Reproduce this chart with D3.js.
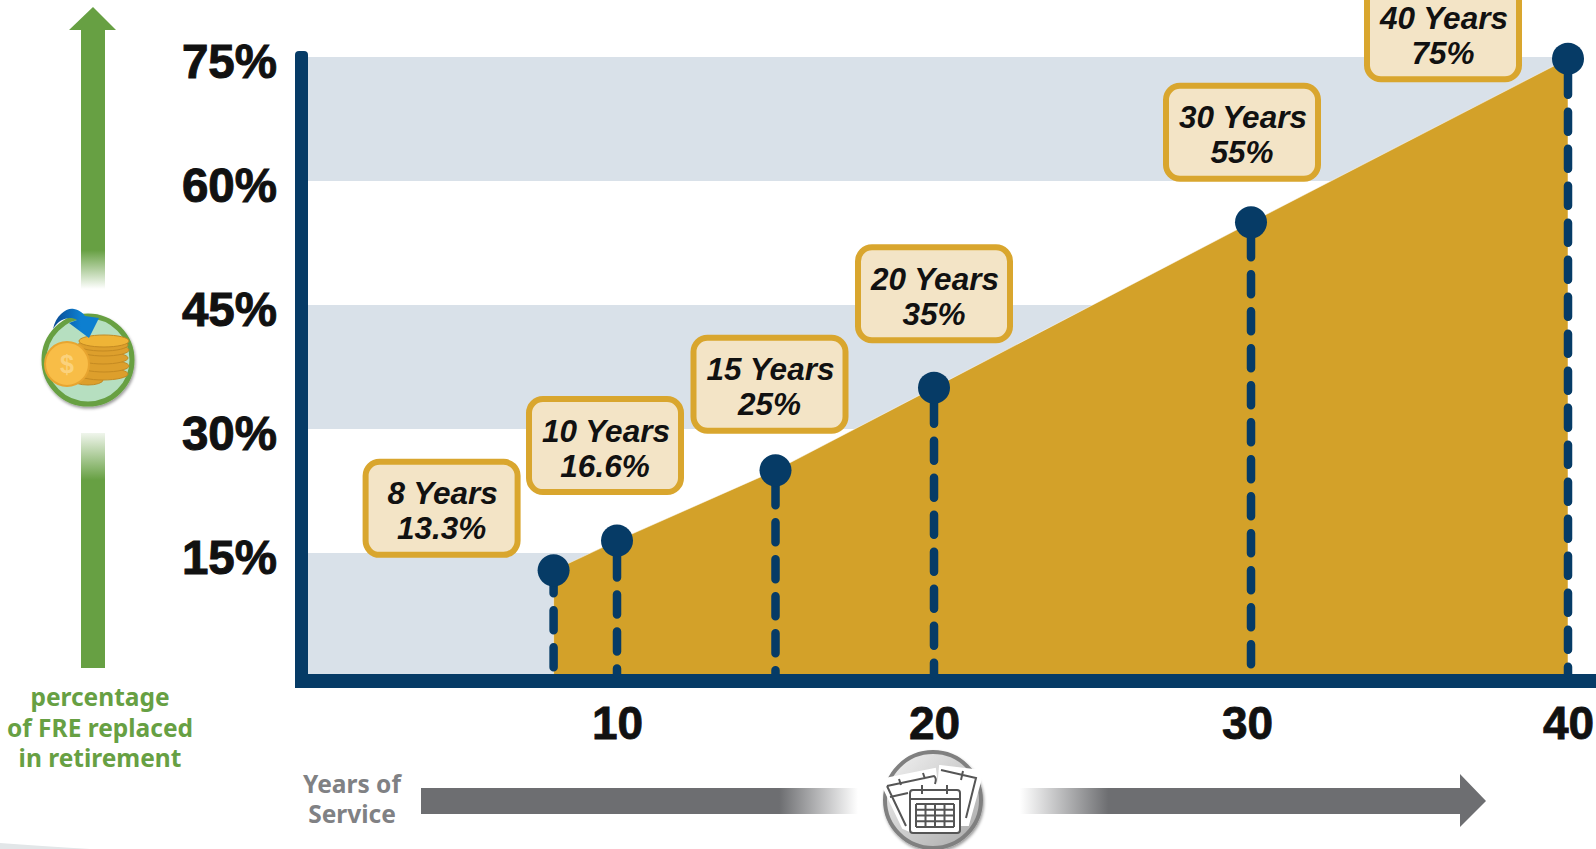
<!DOCTYPE html>
<html>
<head>
<meta charset="utf-8">
<title>Percentage of FRE replaced in retirement</title>
<script src="https://cdn.jsdelivr.net/npm/d3@7"></script>
<style>
    html, body { margin: 0; padding: 0; background: #fff; overflow: hidden; }
    svg { display: block; }
</style>
</head>
<body>
<div id="chart"></div>
<script>
// values (dot heights, the printed labels are kept apart)
const years = [8, 10, 15, 20, 30, 40];
const percents = [12.9, 16.5, 25, 35, 55, 74.8];
const pointLabels = ["13.3%", "16.6%", "25%", "35%", "55%", "75%"];
const xTicks = [10, 20, 30, 40];
const yTicks = [15, 30, 45, 60, 75];
const bands = [[0, 15], [30, 45], [60, 75]];
const yAxisTitle = ["percentage", "of FRE replaced", "in retirement"];
const xAxisTitle = ["Years of", "Service"];

// where each callout box sits relative to its point
const boxDx = [-112, -12, -6, 0, -9, -125];
const boxDy = [-62, -95, -86, -94, -90, -26];
// length of the first dash below each dot
const firstDash = [25, 39, 37, 38, 37, 38];

const width = 1596, height = 849;
const navy = "#063b66", gold = "#d3a129", green = "#67a043", gray = "#6d6e71";
const sans = "'Liberation Sans', Arial, sans-serif";

const x = d3.scaleLinear().domain([0, 40]).range([300, 1568]);
const y = d3.scaleLinear().domain([0, 75]).range([677, 57]);

const svg = d3.select("#chart")
    .append("svg")
    .attr("width", width)
    .attr("height", height)
    .attr("viewBox", [0, 0, width, height]);

const defs = svg.append("defs");

function fade(id, x1, x2, color, stops) {
    let g = defs.append("linearGradient")
        .attr("id", id)
        .attr("gradientUnits", "userSpaceOnUse")
        .attr("x1", x1[0]).attr("y1", x1[1])
        .attr("x2", x2[0]).attr("y2", x2[1]);
    stops.forEach(s => g.append("stop")
        .attr("offset", s[0])
        .attr("stop-color", color)
        .attr("stop-opacity", s[1]));
}

fade("greenTop", [0, 30], [0, 289], green, [[0, 1], [0.85, 1], [1, 0]]);
fade("greenBottom", [0, 433], [0, 668], green, [[0, 0.1], [0.2, 1], [1, 1]]);
fade("grayLeft", [421, 0], [858, 0], gray, [[0, 1], [0.82, 1], [1, 0]]);
fade("grayRight", [1020, 0], [1462, 0], gray, [[0, 0], [0.2, 1], [1, 1]]);

let ring = defs.append("linearGradient")
    .attr("id", "ringFill")
    .attr("x1", 0).attr("y1", 0).attr("x2", 1).attr("y2", 1);
ring.append("stop").attr("offset", 0).attr("stop-color", "#f4f4f4");
ring.append("stop").attr("offset", 1).attr("stop-color", "#a8a8a8");

let blue = defs.append("linearGradient")
    .attr("id", "blueArrow")
    .attr("x1", 0).attr("y1", 0).attr("x2", 1).attr("y2", 0);
blue.append("stop").attr("offset", 0).attr("stop-color", "#0a4a92");
blue.append("stop").attr("offset", 0.6).attr("stop-color", "#0d7fd0");

let shadow = defs.append("filter").attr("id", "soft")
    .attr("x", "-20%").attr("y", "-20%").attr("width", "140%").attr("height", "140%");
shadow.append("feDropShadow")
    .attr("dx", 1).attr("dy", 2).attr("stdDeviation", 1.5)
    .attr("flood-color", "#000").attr("flood-opacity", 0.4);

// faint swoosh at the bottom left corner
svg.append("path")
    .attr("d", "M0,843 Q40,846 90,849 L0,849 Z")
    .attr("fill", "#e2e6e8");

// horizontal bands
svg.append("g")
    .selectAll("rect")
    .data(bands)
    .join("rect")
    .attr("x", x(0))
    .attr("width", x(40) - x(0))
    .attr("y", d => y(d[1]))
    .attr("height", d => y(d[0]) - y(d[1]))
    .attr("fill", "#d9e1e9");

// gold area
let points = d3.zip(years, percents);
let area = d3.area()
    .x(d => x(d[0]))
    .y0(y(0))
    .y1(d => y(d[1]));

svg.append("path")
    .datum(points)
    .attr("d", area)
    .attr("fill", gold)
    .attr("stroke", "#fff")
    .attr("stroke-opacity", 0.5)
    .attr("stroke-width", 1);

// axis lines
svg.append("rect")
    .attr("x", 295).attr("y", 51)
    .attr("width", 13).attr("height", 637)
    .attr("rx", 4)
    .attr("fill", navy);
svg.append("rect")
    .attr("x", 295).attr("y", 674)
    .attr("width", width - 295).attr("height", 14)
    .attr("fill", navy);

// tick labels
let yAxis = d3.axisLeft(y)
    .tickValues(yTicks)
    .tickSize(0)
    .tickPadding(0)
    .tickFormat(d => d + "%");

svg.append("g")
    .attr("transform", "translate(277,0)")
    .call(yAxis)
    .call(g => g.select(".domain").remove())
    .selectAll("text")
    .attr("font-family", sans)
    .attr("font-size", 47.5)
    .attr("font-weight", 700)
    .attr("fill", "#111")
    .attr("stroke", "#111")
    .attr("stroke-width", 1)
    .attr("dy", 20.5);

let xAxis = d3.axisBottom(x)
    .tickValues(xTicks)
    .tickSize(0)
    .tickPadding(0)
    .tickFormat(d => d);

svg.append("g")
    .attr("transform", "translate(0,704)")
    .call(xAxis)
    .call(g => g.select(".domain").remove())
    .selectAll("text")
    .attr("font-family", sans)
    .attr("font-size", 46)
    .attr("font-weight", 700)
    .attr("fill", "#111")
    .attr("stroke", "#111")
    .attr("stroke-width", 0.8)
    .attr("dx", d => d === 30 ? -4 : 0)
    .attr("dy", 35);

// dashed drop lines and dots
svg.append("g")
    .selectAll("line")
    .data(points)
    .join("line")
    .attr("x1", d => x(d[0]))
    .attr("x2", d => x(d[0]))
    .attr("y1", d => y(d[1]))
    .attr("y2", 674)
    .attr("stroke", navy)
    .attr("stroke-width", 8.5)
    .attr("stroke-linecap", "round")
    .attr("stroke-dasharray", (d, i) => [firstDash[i] - 2, 17].concat(d3.range(18).flatMap(() => [20, 17])).join(" "));

svg.append("g")
    .selectAll("circle")
    .data(points)
    .join("circle")
    .attr("cx", d => x(d[0]))
    .attr("cy", d => y(d[1]))
    .attr("r", 16)
    .attr("fill", navy);

// callout boxes
let boxW = 152, boxH = 93;
let boxes = svg.append("g")
    .selectAll("g")
    .data(points)
    .join("g")
    .attr("transform", (d, i) => `translate(${x(d[0]) + boxDx[i]},${y(d[1]) + boxDy[i]})`);

boxes.append("rect")
    .attr("x", -boxW / 2)
    .attr("y", -boxH / 2)
    .attr("width", boxW)
    .attr("height", boxH)
    .attr("rx", 14)
    .attr("fill", "#f3e4c6")
    .attr("stroke", "#d9a62e")
    .attr("stroke-width", 6);

boxes.append("text")
    .attr("text-anchor", "middle")
    .attr("x", 1)
    .attr("y", -4)
    .attr("font-family", sans)
    .attr("font-size", 31.5)
    .attr("font-weight", 700)
    .attr("font-style", "italic")
    .attr("fill", "#111")
    .text(d => d[0] + " Years");

boxes.append("text")
    .attr("text-anchor", "middle")
    .attr("x", 0)
    .attr("y", 31)
    .attr("font-family", sans)
    .attr("font-size", 31.5)
    .attr("font-weight", 700)
    .attr("font-style", "italic")
    .attr("fill", "#111")
    .text((d, i) => pointLabels[i]);

// green arrow on the left
svg.append("path")
    .attr("d", "M93,7 L116,30 L105,30 L105,289 L81,289 L81,30 L69,30 Z")
    .attr("fill", "url(#greenTop)");
svg.append("rect")
    .attr("x", 81).attr("y", 433)
    .attr("width", 24).attr("height", 235)
    .attr("fill", "url(#greenBottom)");

svg.append("g")
    .selectAll("text")
    .data(yAxisTitle)
    .join("text")
    .attr("x", 100)
    .attr("y", (d, i) => 706 + i * 30.5)
    .attr("text-anchor", "middle")
    .attr("font-family", "'Noto Sans', sans-serif")
    .attr("font-size", 24.5)
    .attr("font-weight", 700)
    .attr("fill", green)
    .text(d => d);

// coin badge
let coin = svg.append("g");
coin.append("circle")
    .attr("cx", 88).attr("cy", 360).attr("r", 44)
    .attr("fill", "#b6dfc0")
    .attr("stroke", green)
    .attr("stroke-width", 5)
    .attr("filter", "url(#soft)");

[380, 373, 366, 359].forEach(cy => coin.append("ellipse")
    .attr("cx", 88).attr("cy", cy).attr("rx", 15).attr("ry", 5)
    .attr("fill", "#dd9f2c").attr("stroke", "#c48a22"));
[374, 366, 358, 350, 345, 341].forEach((cy, i) => coin.append("ellipse")
    .attr("cx", 103 + (i % 2)).attr("cy", cy).attr("rx", 25).attr("ry", 6)
    .attr("fill", i === 5 ? "#efb436" : "#dd9f2c").attr("stroke", "#c48a22"));
coin.append("circle")
    .attr("cx", 67).attr("cy", 364).attr("r", 22)
    .attr("fill", "#f8bd47").attr("stroke", "#e8a530").attr("stroke-width", 2);
coin.append("text")
    .attr("x", 67).attr("y", 373)
    .attr("text-anchor", "middle")
    .attr("font-family", sans)
    .attr("font-size", 25)
    .attr("font-weight", 700)
    .attr("fill", "#fbd27c")
    .text("$");
coin.append("path")
    .attr("d", "M53,329 C56,314 68,307 74,309 C80,310 84,314 85,316 L99,318 L89,338 L69,323 L77,320 C70,316 60,318 53,329 Z")
    .attr("fill", "url(#blueArrow)");

// gray arrow at the bottom
svg.append("rect")
    .attr("x", 421).attr("y", 788)
    .attr("width", 437).attr("height", 26)
    .attr("fill", "url(#grayLeft)");
svg.append("path")
    .attr("d", "M1020,788 L1460,788 L1460,774 L1486,801 L1460,827 L1460,814 L1020,814 Z")
    .attr("fill", "url(#grayRight)");

svg.append("g")
    .selectAll("text")
    .data(xAxisTitle)
    .join("text")
    .attr("x", 352)
    .attr("y", (d, i) => 793 + i * 30)
    .attr("text-anchor", "middle")
    .attr("font-family", "'Noto Sans', sans-serif")
    .attr("font-size", 24.5)
    .attr("font-weight", 700)
    .attr("fill", "#808184")
    .text(d => d);

// calendar badge
let cal = svg.append("g")
    .attr("fill", "#fff")
    .attr("stroke", "#555")
    .attr("stroke-width", 2);
cal.append("circle")
    .attr("cx", 933).attr("cy", 800).attr("r", 48)
    .attr("fill", "url(#ringFill)")
    .attr("stroke", "#808080")
    .attr("stroke-width", 4)
    .attr("filter", "url(#soft)");
// back pages
cal.append("path")
    .attr("d", "M880,780 L935,769 L938,792 L912,792 L912,832 L903,828 Z")
    .attr("stroke", "#fff")
    .attr("stroke-width", 2);
cal.append("path")
    .attr("d", "M940,766 L983,771 L968,825 L960,825 L960,790 L938,790 Z")
    .attr("stroke", "#fff")
    .attr("stroke-width", 2);
cal.append("path")
    .attr("fill", "none")
    .attr("d", "M887,786 L934,776 Q937,778 935,784 M887,786 L906,826 M890,797 L908,793 M899,779 L901,785 M923,773 L925,779");
cal.append("path")
    .attr("fill", "none")
    .attr("d", "M941,770 L976,778 L966,818 M963,771 L961,780");
cal.append("rect")
    .attr("x", 910).attr("y", 790)
    .attr("width", 50).attr("height", 43)
    .attr("rx", 3);
cal.append("line")
    .attr("x1", 910).attr("x2", 960)
    .attr("y1", 799).attr("y2", 799);
cal.append("g")
    .selectAll("line")
    .data([922, 947])
    .join("line")
    .attr("x1", d => d).attr("x2", d => d)
    .attr("y1", 785).attr("y2", 794);
cal.append("g")
    .selectAll("line")
    .data(d3.range(5))
    .join("line")
    .attr("x1", 916).attr("x2", 954)
    .attr("y1", d => 804 + d * 5.75).attr("y2", d => 804 + d * 5.75);
cal.append("g")
    .selectAll("line")
    .data(d3.range(5))
    .join("line")
    .attr("x1", d => 916 + d * 9.5).attr("x2", d => 916 + d * 9.5)
    .attr("y1", 804).attr("y2", 827);
</script>
</body>
</html>
